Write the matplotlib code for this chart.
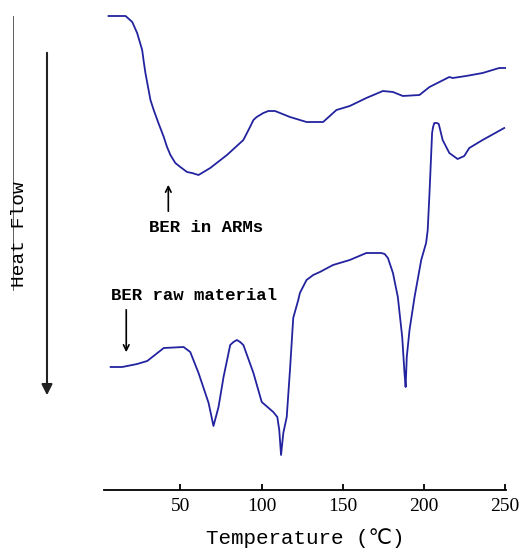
import matplotlib
matplotlib.use("Agg")
import matplotlib.pyplot as plt
from matplotlib.lines import Line2D
from matplotlib.patches import FancyArrowPatch

# BER in ARMs (upper curve)
temp_arms = [5.8, 16.3, 20.4, 23.4, 26.5, 27.5, 28.5, 31.6, 33.6, 36.5, 39.8, 41.8,
             43.9, 46.9, 50.0, 54.1, 57.2, 61.2, 68.4, 78.7, 88.8, 92.9, 95.0, 97.0,
             101.1, 104.2, 108.3, 117.5, 127.7, 137.9, 146.1, 154.3, 164.5, 174.7,
             180.9, 187.0, 197.2, 203.4, 215.6, 217.7, 225.9, 236.1, 246.3, 250.0]
flow_arms = [47.4, 47.4, 46.8, 45.7, 44.0, 42.8, 41.7, 39.0, 38.0, 36.7, 35.3, 34.3,
             33.5, 32.7, 32.3, 31.8, 31.7, 31.5, 32.2, 33.5, 35.0, 36.3, 37.0, 37.3,
             37.7, 37.9, 37.9, 37.3, 36.8, 36.8, 38.0, 38.4, 39.2, 39.9,
             39.8, 39.4, 39.5, 40.3, 41.3, 41.2, 41.4, 41.7, 42.2, 42.2]

# BER raw material (lower curve)
temp_raw = [7.1, 14.2, 23.4, 29.6, 39.8, 52.0, 56.1, 61.2, 67.4, 70.4, 73.5, 76.6,
            80.7, 82.7, 84.8, 86.8, 88.8, 95.0, 100.1, 107.2, 109.7, 110.9, 112.0,
            113.4, 115.5, 117.5, 119.5, 122.6, 123.6, 127.7, 131.8, 135.9, 144.0,
            154.3, 164.5, 173.7, 175.8, 177.8, 180.9, 183.9, 186.6, 188.0, 188.7,
            189.4, 191.1, 194.2, 198.3, 201.3, 202.3, 203.4, 205.0, 205.6, 206.4,
            208.0, 209.1, 211.5, 215.6, 220.7, 224.8, 227.9, 236.1, 249.4]
flow_raw = [12.3, 12.3, 12.6, 12.9, 14.2, 14.3, 13.8, 11.7, 8.7, 6.4, 8.3, 11.3,
            14.5, 14.8, 15.0, 14.8, 14.5, 11.7, 8.8, 7.8, 7.3, 6.0, 3.5,
            5.7, 7.3, 12.0, 17.2, 19.0, 19.7, 21.0, 21.5, 21.8, 22.5,
            23.0, 23.7, 23.7, 23.6, 23.2, 21.7, 19.3, 15.3, 11.7, 10.3,
            13.3, 16.0, 19.3, 23.0, 24.7, 26.0, 29.7, 35.7, 36.3, 36.7,
            36.7, 36.6, 35.0, 33.7, 33.1, 33.4, 34.2, 35.0, 36.2]

xticks = [50, 100, 150, 200, 250]

mono = ['Liberation Mono', 'DejaVu Sans', 'Noto Sans CJK SC']
line_color = '#2323a0'

fig = plt.figure(figsize=(5.22, 5.52), dpi=100)
ax = fig.add_axes([104 / 522, 62 / 552, 402 / 522, 480 / 552])

ax.plot(temp_arms, flow_arms, color=line_color, lw=1.3)
ax.plot(temp_raw, flow_raw, color=line_color, lw=1.3)

ax.set_xlim(3, 250.5)
ax.set_ylim(0, 48)
ax.set_xticks(xticks)
ax.set_xticklabels([str(t) for t in xticks], family='Liberation Serif', fontsize=14)
ax.set_yticks([])
for side in ['top', 'right', 'left']:
    ax.spines[side].set_visible(False)
ax.spines['bottom'].set_linewidth(1.3)
ax.tick_params(axis='x', direction='in', length=4, width=1.3, pad=6)
ax.set_xlabel('Temperature (℃)', family=mono, fontsize=15, labelpad=9)

# curve annotations
ax.annotate('', xy=(42.6, 30.8), xytext=(42.6, 27.6),
            arrowprops=dict(arrowstyle='->', color='black', lw=1.2))
ax.text(66, 26.3, 'BER in ARMs', family=mono, fontsize=12.5, fontweight='bold',
        ha='center', va='center')
ax.annotate('', xy=(16.7, 13.5), xytext=(16.7, 18.3),
            arrowprops=dict(arrowstyle='->', color='black', lw=1.2))
ax.text(58.5, 19.5, 'BER raw material', family=mono, fontsize=12.5, fontweight='bold',
        ha='center', va='center')

# heat flow direction
fig.text(20 / 522, 1 - 234 / 552, 'Heat Flow', family=mono, fontsize=14,
         rotation=90, ha='center', va='center')
fig.patches.append(FancyArrowPatch(
    (47 / 522, 1 - 50 / 552), (47 / 522, 1 - 398 / 552), transform=fig.transFigure,
    arrowstyle='-|>', mutation_scale=16, color='#222222', lw=1.5))
fig.lines.append(Line2D([12.7 / 522, 12.7 / 522], [1 - 16 / 552, 1 - 290 / 552],
                        transform=fig.transFigure, color='#444444', lw=0.6))

fig.savefig('out.png', dpi=100)
